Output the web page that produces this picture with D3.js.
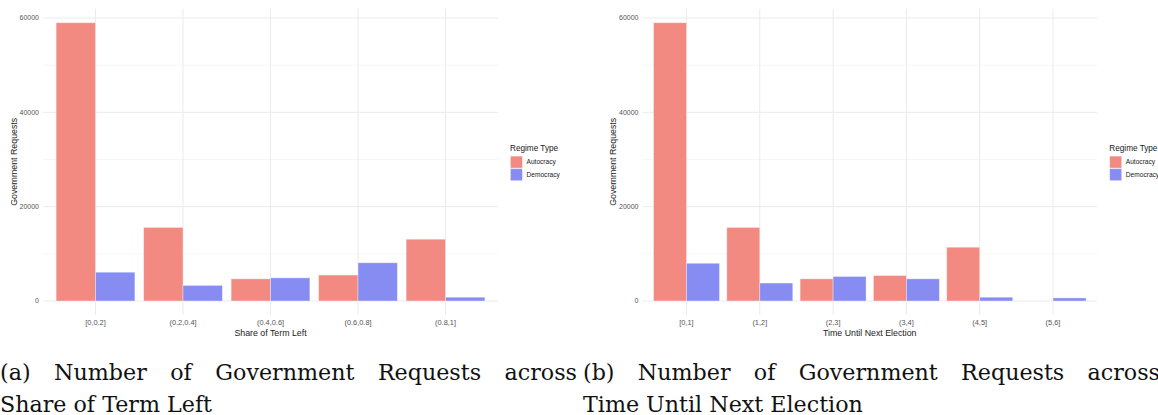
<!DOCTYPE html>
<html>

<head>
  <meta charset="utf-8">
  <title>Government Requests by Regime Type</title>
  <style>
    body { margin: 0; background: #fff; }
    svg { display: block; }
    .tick-y, .tick-x { font-family: "Liberation Sans", Arial, sans-serif; fill: #555; }
    .axis-title { font-family: "Liberation Sans", Arial, sans-serif; fill: #1a1a1a; }
    .caption { font-family: "DejaVu Serif", serif; fill: #111; }
  </style>
</head>

<body>
  <div class="chart"></div>
  <script src="https://cdn.jsdelivr.net/npm/d3@7"></script>
  <script>
    // panel (a): share of term left
    var termCats = ["[0,0.2]", "(0.2,0.4]", "(0.4,0.6]", "(0.6,0.8]", "(0.8,1]"];
    var termAutocracy = [59000, 15600, 4700, 5500, 13100];
    var termDemocracy = [6100, 3300, 4900, 8100, 800];

    // panel (b): time until next election
    var electionCats = ["[0,1]", "(1,2]", "(2,3]", "(3,4]", "(4,5]", "(5,6]"];
    var electionAutocracy = [59000, 15600, 4700, 5400, 11400, 0];
    var electionDemocracy = [8000, 3800, 5200, 4700, 800, 650];

    var regimes = ["Autocracy", "Democracy"];
    var yTicks = [0, 20000, 40000, 60000];
    var yMinor = [10000, 30000, 50000];

    var captionA = ["(a) Number of Government Requests across", "Share of Term Left"];
    var captionB = ["(b) Number of Government Requests across", "Time Until Next Election"];

    var width = 1158,
      height = 415;

    var color = d3.scaleOrdinal()
      .domain(regimes)
      .range(["rgb(242,138,130)", "rgb(134,140,242)"]);

    var svg = d3.select(".chart")
      .append("svg")
      .attr("width", width)
      .attr("height", height);

    svg.append("rect").attr("width", width).attr("height", height).attr("fill", "#fff");

    function drawPanel(opts) {
      var g = svg.append("g").attr("class", "panel");

      // ggplot style 5% expansion
      var ymax = d3.max(opts.aut.concat(opts.dem));
      var y = d3.scaleLinear()
        .domain([-0.05 * ymax, 1.05 * ymax])
        .range([314.9, 8.8]);

      var x = d3.scaleBand()
        .domain(opts.cats)
        .range([opts.left, opts.right])
        .paddingInner(0)
        .paddingOuter(0.1);

      var bw = x.bandwidth();
      var x1 = d3.scaleBand()
        .domain(regimes)
        .range([0.05 * bw, 0.95 * bw]);

      // grid
      g.selectAll(".minor")
        .data(yMinor)
        .enter().append("line")
        .attr("x1", opts.left).attr("x2", opts.right)
        .attr("y1", function (d) { return y(d); })
        .attr("y2", function (d) { return y(d); })
        .style("stroke", "#f4f4f4").style("stroke-width", 0.8);

      g.selectAll(".major")
        .data(yTicks)
        .enter().append("line")
        .attr("x1", opts.left).attr("x2", opts.right)
        .attr("y1", function (d) { return y(d); })
        .attr("y2", function (d) { return y(d); })
        .style("stroke", "#ebebeb").style("stroke-width", 1);

      g.selectAll(".vgrid")
        .data(opts.cats)
        .enter().append("line")
        .attr("x1", function (d) { return x(d) + bw / 2; })
        .attr("x2", function (d) { return x(d) + bw / 2; })
        .attr("y1", y.range()[1]).attr("y2", y.range()[0])
        .style("stroke", "#ebebeb").style("stroke-width", 1);

      // bars
      var rows = opts.cats.map(function (c, i) {
        return { cat: c, values: [{ key: "Autocracy", v: opts.aut[i] }, { key: "Democracy", v: opts.dem[i] }] };
      });

      g.selectAll(".group")
        .data(rows)
        .enter().append("g")
        .attr("transform", function (d) { return "translate(" + x(d.cat) + ",0)"; })
        .selectAll("rect")
        .data(function (d) { return d.values.filter(function (e) { return e.v > 0; }); })
        .enter().append("rect")
        .attr("x", function (d) { return x1(d.key); })
        .attr("width", x1.bandwidth())
        .attr("y", function (d) { return y(d.v); })
        .attr("height", function (d) { return y(0) - y(d.v); })
        .style("fill", function (d) { return color(d.key); })
        .style("stroke", "rgba(255,255,255,0.45)")
        .style("stroke-width", 0.8);

      // y tick labels
      g.selectAll(".tick-y")
        .data(yTicks)
        .enter().append("text")
        .attr("class", "tick-y")
        .attr("x", opts.left - 4)
        .attr("y", function (d) { return y(d); })
        .attr("dy", "0.35em")
        .attr("text-anchor", "end")
        .style("font-size", "7px")
        .text(function (d) { return d; });

      // x tick labels
      g.selectAll(".tick-x")
        .data(opts.cats)
        .enter().append("text")
        .attr("class", "tick-x")
        .attr("x", function (d) { return x(d) + bw / 2; })
        .attr("y", 322)
        .attr("dy", "0.35em")
        .attr("text-anchor", "middle")
        .style("font-size", "7.4px")
        .text(function (d) { return d; });

      // axis titles
      g.append("text")
        .attr("class", "axis-title")
        .attr("x", (opts.left + opts.right) / 2)
        .attr("y", 333)
        .attr("dy", "0.35em")
        .attr("text-anchor", "middle")
        .style("font-size", "8.8px")
        .text(opts.xTitle);

      g.append("text")
        .attr("class", "axis-title")
        .attr("transform", "translate(" + (opts.left - 29.5) + "," + ((y.range()[0] + y.range()[1]) / 2) + ") rotate(-90)")
        .attr("dy", "0.35em")
        .attr("text-anchor", "middle")
        .style("font-size", "8.8px")
        .text("Government Requests");

      // legend
      var lg = g.append("g").attr("transform", "translate(" + opts.legendX + ",0)");
      lg.append("text")
        .attr("class", "axis-title")
        .attr("y", 150.5)
        .style("font-size", "8.2px")
        .text("Regime Type");

      var item = lg.selectAll(".item")
        .data(regimes)
        .enter().append("g")
        .attr("transform", function (d, i) { return "translate(0," + (155.7 + i * 12.6) + ")"; });

      item.append("rect")
        .attr("x", 0.4).attr("y", 0.4)
        .attr("width", 12).attr("height", 12)
        .style("fill", function (d) { return color(d); })
        .style("stroke", "rgba(255,255,255,0.5)")
        .style("stroke-width", 0.8);

      item.append("text")
        .attr("class", "axis-title")
        .attr("x", 16.5).attr("y", 6.4)
        .attr("dy", "0.35em")
        .style("font-size", "6.6px")
        .text(function (d) { return d; });
    }

    drawPanel({ cats: termCats, aut: termAutocracy, dem: termDemocracy, left: 43, right: 498, legendX: 510, xTitle: "Share of Term Left" });
    drawPanel({ cats: electionCats, aut: electionAutocracy, dem: electionDemocracy, left: 642.5, right: 1097, legendX: 1109.3, xTitle: "Time Until Next Election" });

    // captions: first line justified across the column, second left aligned
    var captionSize = "22.2px";
    function caption(lines, x0, colWidth) {
      var g = svg.append("g").attr("class", "caption");
      var words = lines[0].split(" ");
      var texts = words.map(function (w) {
        return g.append("text").attr("class", "caption").attr("y", 380).style("font-size", captionSize).text(w);
      });
      var widths = texts.map(function (t) { return t.node().getComputedTextLength(); });
      var gap = (colWidth - d3.sum(widths)) / (words.length - 1);
      var cx = x0;
      texts.forEach(function (t, i) {
        t.attr("x", cx);
        cx += widths[i] + gap;
      });
      g.append("text").attr("class", "caption")
        .attr("x", x0).attr("y", 411.5)
        .style("font-size", captionSize)
        .text(lines[1]);
    }

    caption(captionA, 0, 577);
    caption(captionB, 583, 577);
  </script>
</body>

</html>
